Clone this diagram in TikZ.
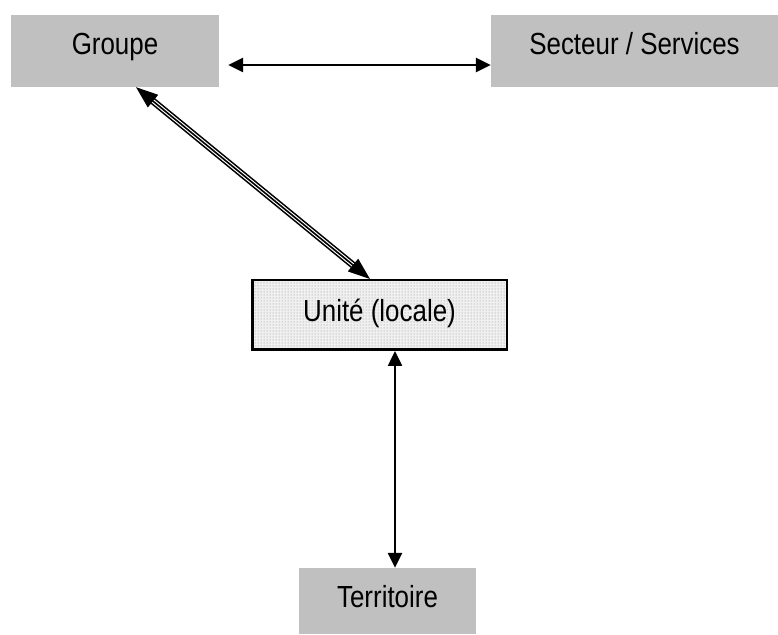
\documentclass[tikz,border=0pt]{standalone}
\usepackage{fontspec}
\setmainfont{Liberation Sans}
\usepackage{graphicx}
\usetikzlibrary{arrows.meta,patterns}
\definecolor{boxgray}{RGB}{192,192,192}
\newcommand{\narrowtext}[1]{\scalebox{0.85}[1]{#1}}

\begin{document}
\begin{tikzpicture}[x=1pt, y=1pt,
    level/.style={rectangle, fill=boxgray, inner sep=0pt,
                  font=\fontsize{30.5}{36}\selectfont, text height=22pt},
    unitbox/.style={rectangle, draw=black, line width=2.5pt, inner sep=0pt,
                    preaction={fill=gray!12}, pattern=dots, pattern color=gray!90,
                    font=\fontsize{30.5}{36}\selectfont, text height=22pt},
    link/.style={{Triangle[length=15pt,width=14pt]}-{Triangle[length=15pt,width=14pt]}, line width=2.5pt},
    biglink/.style={{Triangle[length=22pt,width=16pt]}-{Triangle[length=22pt,width=16pt]}, line width=1.6pt,
                    preaction={draw, -, line width=7pt, shorten <=15pt, shorten >=15pt},
                    preaction={draw=white, -, line width=3.8pt, shorten <=15pt, shorten >=15pt}}
]
\useasboundingbox (0,0) rectangle (778,634);

% Levels
\node[level, minimum width=208pt, minimum height=72pt, text depth=14pt] (groupe) at (115,583) {\narrowtext{Groupe}};
\node[level, minimum width=287pt, minimum height=72pt, text depth=14pt] (secteur) at (634.5,583) {\narrowtext{Secteur / Services}};
\node[unitbox, minimum width=254.5pt, minimum height=69.5pt, text depth=8pt] (unite) at (379.5,319) {\narrowtext{Unité (locale)}};
\node[level, minimum width=177pt, minimum height=66pt, text depth=10pt] (territoire) at (387.5,33) {\narrowtext{Territoire}};

% Arrows
\draw[link] ([xshift=9pt,yshift=-14pt]groupe.east) -- ([yshift=-14pt]secteur.west);
\draw[biglink] ([xshift=21pt]groupe.south) -- ([xshift=-9.5pt]unite.north);
\draw[link] ([xshift=15.5pt]unite.south) -- ([xshift=7.5pt]territoire.north);

\end{tikzpicture}
\end{document}
